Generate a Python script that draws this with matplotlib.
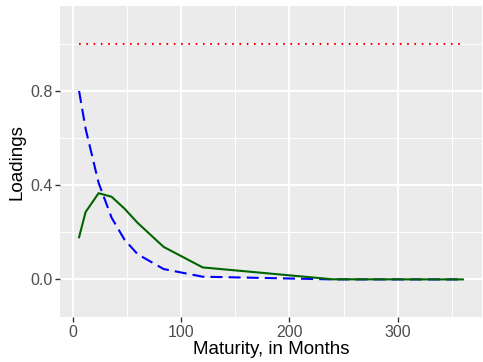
import matplotlib
matplotlib.use("Agg")
import matplotlib.pyplot as plt
from matplotlib.ticker import MultipleLocator

plt.rcParams['font.family'] = ['Liberation Sans', 'DejaVu Sans']

# maturities in months and the three factor loadings
maturity = [6, 12, 24, 36, 48, 60, 84, 120, 240, 360]
level = [1.0, 1.0, 1.0, 1.0, 1.0, 1.0, 1.0, 1.0, 1.0, 1.0]
slope = [0.80, 0.64, 0.41, 0.262, 0.168, 0.107, 0.044, 0.0115, 0.0001, 0.0]
curvature = [0.179, 0.286, 0.366, 0.351, 0.300, 0.240, 0.138, 0.051, 0.0005, 0.0]

fig = plt.figure(figsize=(4.83, 3.62), dpi=100)
ax = fig.add_axes([0.124, 0.124, 0.874, 0.859])
ax.set_facecolor('#EBEBEB')
for s in ax.spines.values():
    s.set_visible(False)

ax.xaxis.set_major_locator(MultipleLocator(100))
ax.xaxis.set_minor_locator(MultipleLocator(50))
ax.yaxis.set_major_locator(MultipleLocator(0.4))
ax.yaxis.set_minor_locator(MultipleLocator(0.2))
ax.grid(which='major', color='white', linewidth=1.4)
ax.grid(which='minor', color='white', linewidth=0.7)
ax.set_axisbelow(True)

ax.plot(maturity, level, color='red', linewidth=1.5, linestyle=(0, (0.8, 2.7)))
ax.plot(maturity, slope, color='blue', linewidth=1.5, linestyle=(0, (5.8, 2.9)))
ax.plot(maturity, curvature, color='#006400', linewidth=1.5)

ax.set_xlim(6 - 0.05 * 354, 360 + 0.05 * 354)
ax.set_ylim(-0.16, 1.16)
ax.set_yticks([0.0, 0.4, 0.8])
ax.set_yticklabels(['0.0', '0.4', '0.8'])

ax.tick_params(which='major', length=3.5, width=1, color='#333333',
               labelcolor='#4D4D4D', labelsize=11.5, pad=2)
ax.tick_params(which='minor', length=0)

ax.set_xlabel('Maturity, in Months', fontsize=13.5, labelpad=1)
ax.set_ylabel('Loadings', fontsize=13.5, labelpad=3)

fig.savefig('out.png', dpi=100)
